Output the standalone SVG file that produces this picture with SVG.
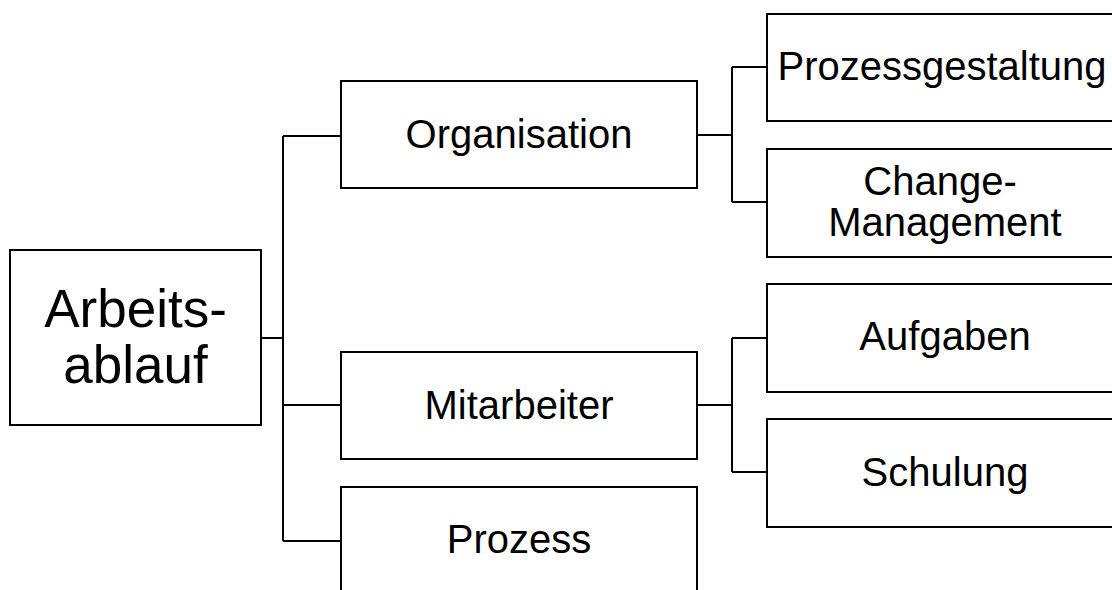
<svg xmlns="http://www.w3.org/2000/svg" width="1112" height="590" viewBox="0 0 1112 590">
  <style>
    .box { fill: #ffffff; stroke: #000000; stroke-width: 2; }
    .wire { fill: none; stroke: #000000; stroke-width: 2; }
    .lbl { font-family: "Liberation Sans", Arial, sans-serif; font-size: 40px; fill: #000000; text-anchor: middle; }
    .big { font-size: 53px; }
  </style>
  <rect width="1112" height="590" fill="#ffffff"/>

  <!-- tree connectors -->
  <g id="connectors">
    <path class="wire" d="M261,338 H283"/>
    <path class="wire" d="M283,136 V541"/>
    <path class="wire" d="M283,136 H341 M283,405 H341 M283,541 H341"/>
    <path class="wire" d="M697,135 H732 M732,67 V202 M732,67 H767 M732,202 H767"/>
    <path class="wire" d="M697,405 H732 M732,338 V472 M732,338 H767 M732,472 H767"/>
  </g>

  <g id="arbeitsablauf">
    <rect class="box" x="10" y="250" width="251" height="175"/>
    <text class="lbl big" x="135.5" y="327">Arbeits-</text>
    <text class="lbl big" x="135.5" y="383">ablauf</text>
  </g>

  <g id="organisation">
    <rect class="box" x="341" y="81" width="356" height="107"/>
    <text class="lbl" x="519" y="148">Organisation</text>
  </g>

  <g id="mitarbeiter">
    <rect class="box" x="341" y="352" width="356" height="107"/>
    <text class="lbl" x="519" y="419">Mitarbeiter</text>
  </g>

  <g id="prozess">
    <rect class="box" x="341" y="487" width="356" height="107"/>
    <text class="lbl" x="519" y="553">Prozess</text>
  </g>

  <g id="prozessgestaltung">
    <rect class="box" x="767" y="14" width="356" height="107"/>
    <text class="lbl" x="942" y="80">Prozessgestaltung</text>
  </g>

  <g id="change-management">
    <rect class="box" x="767" y="149" width="356" height="108"/>
    <text class="lbl" x="940" y="195">Change-</text>
    <text class="lbl" x="945" y="236">Management</text>
  </g>

  <g id="aufgaben">
    <rect class="box" x="767" y="284" width="356" height="108"/>
    <text class="lbl" x="945" y="350">Aufgaben</text>
  </g>

  <g id="schulung">
    <rect class="box" x="767" y="419" width="356" height="108"/>
    <text class="lbl" x="945" y="486">Schulung</text>
  </g>
</svg>
